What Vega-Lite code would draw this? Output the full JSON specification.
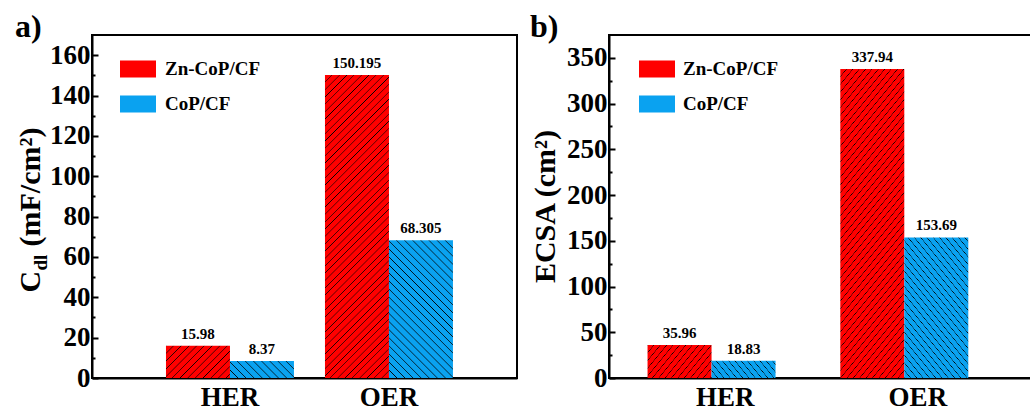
{
  "$schema": "https://vega.github.io/schema/vega-lite/v6.json",
  "background": "white",
  "padding": {"left": 14, "top": 10, "right": 0, "bottom": 0},
  "bounds": "flush",
  "spacing": 92,
  "config": {
    "font": "Liberation Serif",
    "view": {"stroke": "black", "strokeWidth": 2},
    "axis": {
      "grid": false,
      "labelFont": "Liberation Serif",
      "titleFont": "Liberation Serif",
      "labelColor": "black",
      "titleColor": "black",
      "domainColor": "black",
      "tickColor": "black",
      "domainWidth": 2,
      "tickWidth": 2,
      "labelFontWeight": "bold",
      "titleFontWeight": "bold"
    },
    "legend": {
      "labelFont": "Liberation Serif",
      "labelFontWeight": "bold",
      "labelColor": "black"
    },
    "title": {"font": "Liberation Serif", "color": "black"}
  },
  "resolve": {"legend": {"fill": "independent"}},
  "hconcat": [
    {
      "width": 425,
      "height": 343,
      "title": {"text": "a)", "anchor": "start", "frame": "bounds", "fontSize": 32, "fontWeight": "bold", "baseline": "alphabetic", "offset": -34},
      "data": {"values": [
        {"task": "HER", "series": "Zn-CoP/CF", "value": 15.98},
        {"task": "HER", "series": "CoP/CF", "value": 8.37},
        {"task": "OER", "series": "Zn-CoP/CF", "value": 150.195},
        {"task": "OER", "series": "CoP/CF", "value": 68.305}
      ]},
      "encoding": {
        "x": {
          "field": "task", "type": "nominal",
          "scale": {"domain": ["HER", "OER"], "paddingInner": 0.195, "paddingOuter": 0.434, "align": 0.536},
          "axis": {"title": null, "ticks": false, "labelAngle": 0, "labelFontSize": 27, "labelPadding": 6}
        },
        "xOffset": {
          "field": "series", "type": "nominal",
          "scale": {"domain": ["Zn-CoP/CF", "CoP/CF"], "paddingInner": 0, "paddingOuter": 0}
        }
      },
      "layer": [
        {
          "mark": {"type": "bar"},
          "encoding": {
            "y": {
              "field": "value", "type": "quantitative",
              "scale": {"domain": [0, 170], "nice": false},
              "axis": {"orient": "left", "values": [0, 20, 40, 60, 80, 100, 120, 140, 160], "tickSize": -6, "labelFontSize": 27, "labelPadding": 8,
                       "title": "(mF/cm²)", "titleFontSize": 30, "titleAngle": -90, "titleAlign": "left", "titleBaseline": "alphabetic", "titleX": -53, "titleY": 211}
            },
            "fill": {
              "condition": [
                {"test": "datum.task === 'HER' && datum.series === 'Zn-CoP/CF'", "value": {"gradient": "linear", "x1": 0, "y1": 0, "x2": 1.1995, "y2": 0.6035, "stops": [
                  {"offset": 0, "color": "#000"}, {"offset": 0.008, "color": "red"}, {"offset": 0.072, "color": "red"},
                  {"offset": 0.08, "color": "#000"}, {"offset": 0.088, "color": "red"}, {"offset": 0.152, "color": "red"},
                  {"offset": 0.16, "color": "#000"}, {"offset": 0.168, "color": "red"}, {"offset": 0.232, "color": "red"},
                  {"offset": 0.24, "color": "#000"}, {"offset": 0.248, "color": "red"}, {"offset": 0.312, "color": "red"},
                  {"offset": 0.32, "color": "#000"}, {"offset": 0.328, "color": "red"}, {"offset": 0.392, "color": "red"},
                  {"offset": 0.4, "color": "#000"}, {"offset": 0.408, "color": "red"}, {"offset": 0.472, "color": "red"},
                  {"offset": 0.48, "color": "#000"}, {"offset": 0.488, "color": "red"}, {"offset": 0.552, "color": "red"},
                  {"offset": 0.56, "color": "#000"}, {"offset": 0.568, "color": "red"}, {"offset": 0.632, "color": "red"},
                  {"offset": 0.64, "color": "#000"}, {"offset": 0.648, "color": "red"}, {"offset": 0.712, "color": "red"},
                  {"offset": 0.72, "color": "#000"}, {"offset": 0.728, "color": "red"}, {"offset": 0.792, "color": "red"},
                  {"offset": 0.8, "color": "#000"}, {"offset": 0.808, "color": "red"}, {"offset": 0.872, "color": "red"},
                  {"offset": 0.88, "color": "#000"}, {"offset": 0.888, "color": "red"}, {"offset": 0.952, "color": "red"},
                  {"offset": 0.96, "color": "#000"}, {"offset": 0.968, "color": "red"}
                ]}},
                {"test": "datum.task === 'HER' && datum.series === 'CoP/CF'", "value": {"gradient": "linear", "x1": 0, "y1": 1, "x2": 1.1817, "y2": 0.688, "stops": [
                  {"offset": 0, "color": "#000"}, {"offset": 0.01, "color": "#0aa2f0"}, {"offset": 0.09, "color": "#0aa2f0"},
                  {"offset": 0.1, "color": "#000"}, {"offset": 0.11, "color": "#0aa2f0"}, {"offset": 0.19, "color": "#0aa2f0"},
                  {"offset": 0.2, "color": "#000"}, {"offset": 0.21, "color": "#0aa2f0"}, {"offset": 0.29, "color": "#0aa2f0"},
                  {"offset": 0.3, "color": "#000"}, {"offset": 0.31, "color": "#0aa2f0"}, {"offset": 0.39, "color": "#0aa2f0"},
                  {"offset": 0.4, "color": "#000"}, {"offset": 0.41, "color": "#0aa2f0"}, {"offset": 0.49, "color": "#0aa2f0"},
                  {"offset": 0.5, "color": "#000"}, {"offset": 0.51, "color": "#0aa2f0"}, {"offset": 0.59, "color": "#0aa2f0"},
                  {"offset": 0.6, "color": "#000"}, {"offset": 0.61, "color": "#0aa2f0"}, {"offset": 0.69, "color": "#0aa2f0"},
                  {"offset": 0.7, "color": "#000"}, {"offset": 0.71, "color": "#0aa2f0"}, {"offset": 0.79, "color": "#0aa2f0"},
                  {"offset": 0.8, "color": "#000"}, {"offset": 0.81, "color": "#0aa2f0"}, {"offset": 0.89, "color": "#0aa2f0"},
                  {"offset": 0.9, "color": "#000"}, {"offset": 0.91, "color": "#0aa2f0"}, {"offset": 0.99, "color": "#0aa2f0"},
                  {"offset": 1, "color": "#000"}
                ]}},
                {"test": "datum.task === 'OER' && datum.series === 'Zn-CoP/CF'", "value": {"gradient": "linear", "x1": 0, "y1": 0, "x2": 0.2449, "y2": 1.1595, "stops": [
                  {"offset": 0, "color": "#000"}, {"offset": 0.002, "color": "red"}, {"offset": 0.018, "color": "red"},
                  {"offset": 0.02, "color": "#000"}, {"offset": 0.022, "color": "red"}, {"offset": 0.038, "color": "red"},
                  {"offset": 0.04, "color": "#000"}, {"offset": 0.042, "color": "red"}, {"offset": 0.058, "color": "red"},
                  {"offset": 0.06, "color": "#000"}, {"offset": 0.062, "color": "red"}, {"offset": 0.078, "color": "red"},
                  {"offset": 0.08, "color": "#000"}, {"offset": 0.082, "color": "red"}, {"offset": 0.098, "color": "red"},
                  {"offset": 0.1, "color": "#000"}, {"offset": 0.102, "color": "red"}, {"offset": 0.118, "color": "red"},
                  {"offset": 0.12, "color": "#000"}, {"offset": 0.122, "color": "red"}, {"offset": 0.138, "color": "red"},
                  {"offset": 0.14, "color": "#000"}, {"offset": 0.142, "color": "red"}, {"offset": 0.158, "color": "red"},
                  {"offset": 0.16, "color": "#000"}, {"offset": 0.162, "color": "red"}, {"offset": 0.178, "color": "red"},
                  {"offset": 0.18, "color": "#000"}, {"offset": 0.182, "color": "red"}, {"offset": 0.198, "color": "red"},
                  {"offset": 0.2, "color": "#000"}, {"offset": 0.202, "color": "red"}, {"offset": 0.218, "color": "red"},
                  {"offset": 0.22, "color": "#000"}, {"offset": 0.222, "color": "red"}, {"offset": 0.238, "color": "red"},
                  {"offset": 0.24, "color": "#000"}, {"offset": 0.242, "color": "red"}, {"offset": 0.258, "color": "red"},
                  {"offset": 0.26, "color": "#000"}, {"offset": 0.262, "color": "red"}, {"offset": 0.278, "color": "red"},
                  {"offset": 0.28, "color": "#000"}, {"offset": 0.282, "color": "red"}, {"offset": 0.298, "color": "red"},
                  {"offset": 0.3, "color": "#000"}, {"offset": 0.302, "color": "red"}, {"offset": 0.318, "color": "red"},
                  {"offset": 0.32, "color": "#000"}, {"offset": 0.322, "color": "red"}, {"offset": 0.338, "color": "red"},
                  {"offset": 0.34, "color": "#000"}, {"offset": 0.342, "color": "red"}, {"offset": 0.358, "color": "red"},
                  {"offset": 0.36, "color": "#000"}, {"offset": 0.362, "color": "red"}, {"offset": 0.378, "color": "red"},
                  {"offset": 0.38, "color": "#000"}, {"offset": 0.382, "color": "red"}, {"offset": 0.398, "color": "red"},
                  {"offset": 0.4, "color": "#000"}, {"offset": 0.402, "color": "red"}, {"offset": 0.418, "color": "red"},
                  {"offset": 0.42, "color": "#000"}, {"offset": 0.422, "color": "red"}, {"offset": 0.438, "color": "red"},
                  {"offset": 0.44, "color": "#000"}, {"offset": 0.442, "color": "red"}, {"offset": 0.458, "color": "red"},
                  {"offset": 0.46, "color": "#000"}, {"offset": 0.462, "color": "red"}, {"offset": 0.478, "color": "red"},
                  {"offset": 0.48, "color": "#000"}, {"offset": 0.482, "color": "red"}, {"offset": 0.498, "color": "red"},
                  {"offset": 0.5, "color": "#000"}, {"offset": 0.502, "color": "red"}, {"offset": 0.518, "color": "red"},
                  {"offset": 0.52, "color": "#000"}, {"offset": 0.522, "color": "red"}, {"offset": 0.538, "color": "red"},
                  {"offset": 0.54, "color": "#000"}, {"offset": 0.542, "color": "red"}, {"offset": 0.558, "color": "red"},
                  {"offset": 0.56, "color": "#000"}, {"offset": 0.562, "color": "red"}, {"offset": 0.578, "color": "red"},
                  {"offset": 0.58, "color": "#000"}, {"offset": 0.582, "color": "red"}, {"offset": 0.598, "color": "red"},
                  {"offset": 0.6, "color": "#000"}, {"offset": 0.602, "color": "red"}, {"offset": 0.618, "color": "red"},
                  {"offset": 0.62, "color": "#000"}, {"offset": 0.622, "color": "red"}, {"offset": 0.638, "color": "red"},
                  {"offset": 0.64, "color": "#000"}, {"offset": 0.642, "color": "red"}, {"offset": 0.658, "color": "red"},
                  {"offset": 0.66, "color": "#000"}, {"offset": 0.662, "color": "red"}, {"offset": 0.678, "color": "red"},
                  {"offset": 0.68, "color": "#000"}, {"offset": 0.682, "color": "red"}, {"offset": 0.698, "color": "red"},
                  {"offset": 0.7, "color": "#000"}, {"offset": 0.702, "color": "red"}, {"offset": 0.718, "color": "red"},
                  {"offset": 0.72, "color": "#000"}, {"offset": 0.722, "color": "red"}, {"offset": 0.738, "color": "red"},
                  {"offset": 0.74, "color": "#000"}, {"offset": 0.742, "color": "red"}, {"offset": 0.758, "color": "red"},
                  {"offset": 0.76, "color": "#000"}, {"offset": 0.762, "color": "red"}, {"offset": 0.778, "color": "red"},
                  {"offset": 0.78, "color": "#000"}, {"offset": 0.782, "color": "red"}, {"offset": 0.798, "color": "red"},
                  {"offset": 0.8, "color": "#000"}, {"offset": 0.802, "color": "red"}, {"offset": 0.818, "color": "red"},
                  {"offset": 0.82, "color": "#000"}, {"offset": 0.822, "color": "red"}, {"offset": 0.838, "color": "red"},
                  {"offset": 0.84, "color": "#000"}, {"offset": 0.842, "color": "red"}, {"offset": 0.858, "color": "red"},
                  {"offset": 0.86, "color": "#000"}, {"offset": 0.862, "color": "red"}, {"offset": 0.878, "color": "red"},
                  {"offset": 0.88, "color": "#000"}, {"offset": 0.882, "color": "red"}, {"offset": 0.898, "color": "red"},
                  {"offset": 0.9, "color": "#000"}, {"offset": 0.902, "color": "red"}, {"offset": 0.918, "color": "red"},
                  {"offset": 0.92, "color": "#000"}, {"offset": 0.922, "color": "red"}, {"offset": 0.938, "color": "red"},
                  {"offset": 0.94, "color": "#000"}, {"offset": 0.942, "color": "red"}, {"offset": 0.958, "color": "red"},
                  {"offset": 0.96, "color": "#000"}, {"offset": 0.962, "color": "red"}, {"offset": 0.978, "color": "red"},
                  {"offset": 0.98, "color": "#000"}, {"offset": 0.982, "color": "red"}, {"offset": 0.998, "color": "red"},
                  {"offset": 1, "color": "#000"}
                ]}},
                {"test": "datum.task === 'OER' && datum.series === 'CoP/CF'", "value": {"gradient": "linear", "x1": 0, "y1": 1, "x2": 0.5595, "y2": -0.2046, "stops": [
                  {"offset": 0, "color": "#000"}, {"offset": 0.004, "color": "#0aa2f0"}, {"offset": 0.036, "color": "#0aa2f0"},
                  {"offset": 0.04, "color": "#000"}, {"offset": 0.044, "color": "#0aa2f0"}, {"offset": 0.076, "color": "#0aa2f0"},
                  {"offset": 0.08, "color": "#000"}, {"offset": 0.084, "color": "#0aa2f0"}, {"offset": 0.116, "color": "#0aa2f0"},
                  {"offset": 0.12, "color": "#000"}, {"offset": 0.124, "color": "#0aa2f0"}, {"offset": 0.156, "color": "#0aa2f0"},
                  {"offset": 0.16, "color": "#000"}, {"offset": 0.164, "color": "#0aa2f0"}, {"offset": 0.196, "color": "#0aa2f0"},
                  {"offset": 0.2, "color": "#000"}, {"offset": 0.204, "color": "#0aa2f0"}, {"offset": 0.236, "color": "#0aa2f0"},
                  {"offset": 0.24, "color": "#000"}, {"offset": 0.244, "color": "#0aa2f0"}, {"offset": 0.276, "color": "#0aa2f0"},
                  {"offset": 0.28, "color": "#000"}, {"offset": 0.284, "color": "#0aa2f0"}, {"offset": 0.316, "color": "#0aa2f0"},
                  {"offset": 0.32, "color": "#000"}, {"offset": 0.324, "color": "#0aa2f0"}, {"offset": 0.356, "color": "#0aa2f0"},
                  {"offset": 0.36, "color": "#000"}, {"offset": 0.364, "color": "#0aa2f0"}, {"offset": 0.396, "color": "#0aa2f0"},
                  {"offset": 0.4, "color": "#000"}, {"offset": 0.404, "color": "#0aa2f0"}, {"offset": 0.436, "color": "#0aa2f0"},
                  {"offset": 0.44, "color": "#000"}, {"offset": 0.444, "color": "#0aa2f0"}, {"offset": 0.476, "color": "#0aa2f0"},
                  {"offset": 0.48, "color": "#000"}, {"offset": 0.484, "color": "#0aa2f0"}, {"offset": 0.516, "color": "#0aa2f0"},
                  {"offset": 0.52, "color": "#000"}, {"offset": 0.524, "color": "#0aa2f0"}, {"offset": 0.556, "color": "#0aa2f0"},
                  {"offset": 0.56, "color": "#000"}, {"offset": 0.564, "color": "#0aa2f0"}, {"offset": 0.596, "color": "#0aa2f0"},
                  {"offset": 0.6, "color": "#000"}, {"offset": 0.604, "color": "#0aa2f0"}, {"offset": 0.636, "color": "#0aa2f0"},
                  {"offset": 0.64, "color": "#000"}, {"offset": 0.644, "color": "#0aa2f0"}, {"offset": 0.676, "color": "#0aa2f0"},
                  {"offset": 0.68, "color": "#000"}, {"offset": 0.684, "color": "#0aa2f0"}, {"offset": 0.716, "color": "#0aa2f0"},
                  {"offset": 0.72, "color": "#000"}, {"offset": 0.724, "color": "#0aa2f0"}, {"offset": 0.756, "color": "#0aa2f0"},
                  {"offset": 0.76, "color": "#000"}, {"offset": 0.764, "color": "#0aa2f0"}, {"offset": 0.796, "color": "#0aa2f0"},
                  {"offset": 0.8, "color": "#000"}, {"offset": 0.804, "color": "#0aa2f0"}, {"offset": 0.836, "color": "#0aa2f0"},
                  {"offset": 0.84, "color": "#000"}, {"offset": 0.844, "color": "#0aa2f0"}, {"offset": 0.876, "color": "#0aa2f0"},
                  {"offset": 0.88, "color": "#000"}, {"offset": 0.884, "color": "#0aa2f0"}, {"offset": 0.916, "color": "#0aa2f0"},
                  {"offset": 0.92, "color": "#000"}, {"offset": 0.924, "color": "#0aa2f0"}, {"offset": 0.956, "color": "#0aa2f0"},
                  {"offset": 0.96, "color": "#000"}, {"offset": 0.964, "color": "#0aa2f0"}, {"offset": 0.996, "color": "#0aa2f0"},
                  {"offset": 1, "color": "#000"}
                ]}}
              ],
              "field": "series", "type": "nominal",
              "scale": {"domain": ["Zn-CoP/CF", "CoP/CF"], "range": ["#ff0000", "#0aa2f0"]},
              "legend": {"title": null, "orient": "none", "legendX": 28, "legendY": 16, "symbolType": "M-1,-0.47H1V0.47H-1Z", "symbolSize": 1296, "symbolStrokeWidth": 0, "symbolOpacity": 1, "labelFontSize": 19, "labelOffset": 9, "rowPadding": 7,
                "encode": {"symbols": {"update": {"fill": [
                  {"test": "datum.value === 'Zn-CoP/CF'", "value": {"gradient": "linear", "x1": 0, "y1": 0, "x2": 1.2038, "y2": 0.5685, "stops": [
                    {"offset": 0, "color": "#000"}, {"offset": 0.014, "color": "red"}, {"offset": 0.126, "color": "red"},
                    {"offset": 0.14, "color": "#000"}, {"offset": 0.154, "color": "red"}, {"offset": 0.266, "color": "red"},
                    {"offset": 0.28, "color": "#000"}, {"offset": 0.294, "color": "red"}, {"offset": 0.406, "color": "red"},
                    {"offset": 0.42, "color": "#000"}, {"offset": 0.434, "color": "red"}, {"offset": 0.546, "color": "red"},
                    {"offset": 0.56, "color": "#000"}, {"offset": 0.574, "color": "red"}, {"offset": 0.686, "color": "red"},
                    {"offset": 0.7, "color": "#000"}, {"offset": 0.714, "color": "red"}, {"offset": 0.826, "color": "red"},
                    {"offset": 0.84, "color": "#000"}, {"offset": 0.854, "color": "red"}, {"offset": 0.966, "color": "red"},
                    {"offset": 0.98, "color": "#000"}, {"offset": 0.994, "color": "red"}
                  ]}},
                  {"value": {"gradient": "linear", "x1": 0, "y1": 1, "x2": 1.2038, "y2": 0.4315, "stops": [
                    {"offset": 0, "color": "#000"}, {"offset": 0.014, "color": "#0aa2f0"}, {"offset": 0.126, "color": "#0aa2f0"},
                    {"offset": 0.14, "color": "#000"}, {"offset": 0.154, "color": "#0aa2f0"}, {"offset": 0.266, "color": "#0aa2f0"},
                    {"offset": 0.28, "color": "#000"}, {"offset": 0.294, "color": "#0aa2f0"}, {"offset": 0.406, "color": "#0aa2f0"},
                    {"offset": 0.42, "color": "#000"}, {"offset": 0.434, "color": "#0aa2f0"}, {"offset": 0.546, "color": "#0aa2f0"},
                    {"offset": 0.56, "color": "#000"}, {"offset": 0.574, "color": "#0aa2f0"}, {"offset": 0.686, "color": "#0aa2f0"},
                    {"offset": 0.7, "color": "#000"}, {"offset": 0.714, "color": "#0aa2f0"}, {"offset": 0.826, "color": "#0aa2f0"},
                    {"offset": 0.84, "color": "#000"}, {"offset": 0.854, "color": "#0aa2f0"}, {"offset": 0.966, "color": "#0aa2f0"},
                    {"offset": 0.98, "color": "#000"}, {"offset": 0.994, "color": "#0aa2f0"}
                  ]}}
                ]}}}
              }
            }
          }
        },
        {
          "transform": [{"filter": "datum.series === 'Zn-CoP/CF'"}],
          "mark": {"type": "text", "baseline": "alphabetic", "dy": -7, "fontSize": 15, "fontWeight": "bold", "color": "black"},
          "encoding": {
            "y": {
              "field": "value", "type": "quantitative",
              "scale": {"domain": [0, 170], "nice": false},
              "axis": {"orient": "left", "values": [10, 30, 50, 70, 90, 110, 130, 150], "tickSize": -3, "labels": false, "domain": false,
                       "title": "C", "titleFontSize": 30, "titleAngle": -90, "titleAlign": "left", "titleBaseline": "alphabetic", "titleX": -53, "titleY": 257}
            },
            "text": {"field": "value", "type": "nominal"}
          }
        },
        {
          "transform": [{"filter": "datum.series === 'CoP/CF'"}],
          "mark": {"type": "text", "baseline": "alphabetic", "dy": -7, "fontSize": 15, "fontWeight": "bold", "color": "black"},
          "encoding": {
            "y": {
              "field": "value", "type": "quantitative",
              "scale": {"domain": [0, 170], "nice": false},
              "axis": {"orient": "left", "ticks": false, "labels": false, "domain": false,
                       "title": "dl", "titleFontSize": 19, "titleAngle": -90, "titleAlign": "left", "titleBaseline": "alphabetic", "titleX": -46, "titleY": 235}
            },
            "text": {"field": "value", "type": "nominal"}
          }
        }
      ],
      "resolve": {"scale": {"y": "independent"}}
    },
    {
      "width": 425,
      "height": 343,
      "title": {"text": "b)", "anchor": "start", "frame": "bounds", "fontSize": 32, "fontWeight": "bold", "baseline": "alphabetic", "offset": -34},
      "data": {"values": [
        {"task": "HER", "series": "Zn-CoP/CF", "value": 35.96},
        {"task": "HER", "series": "CoP/CF", "value": 18.83},
        {"task": "OER", "series": "Zn-CoP/CF", "value": 337.94},
        {"task": "OER", "series": "CoP/CF", "value": 153.69}
      ]},
      "encoding": {
        "x": {
          "field": "task", "type": "nominal",
          "scale": {"domain": ["HER", "OER"], "paddingInner": 0.195, "paddingOuter": 0.2, "align": 0.5},
          "axis": {"title": null, "ticks": false, "labelAngle": 0, "labelFontSize": 27, "labelPadding": 6}
        },
        "xOffset": {
          "field": "series", "type": "nominal",
          "scale": {"domain": ["Zn-CoP/CF", "CoP/CF"], "paddingInner": 0, "paddingOuter": 0}
        }
      },
      "layer": [
        {
          "mark": {"type": "bar"},
          "encoding": {
            "y": {
              "field": "value", "type": "quantitative",
              "scale": {"domain": [0, 375], "nice": false},
              "axis": {"orient": "left", "values": [0, 50, 100, 150, 200, 250, 300, 350], "tickSize": -6, "labelFontSize": 27, "labelPadding": 8,
                       "title": "ECSA (cm²)", "titleFontSize": 30, "titleAngle": -90, "titleAlign": "center", "titleBaseline": "alphabetic", "titleX": -55, "titleY": 171}
            },
            "fill": {
              "condition": [
                {"test": "datum.task === 'HER' && datum.series === 'Zn-CoP/CF'", "value": {"gradient": "linear", "x1": 0, "y1": 0, "x2": 1.207, "y2": 0.5117, "stops": [
                  {"offset": 0, "color": "#000"}, {"offset": 0.007, "color": "red"}, {"offset": 0.063, "color": "red"},
                  {"offset": 0.07, "color": "#000"}, {"offset": 0.077, "color": "red"}, {"offset": 0.133, "color": "red"},
                  {"offset": 0.14, "color": "#000"}, {"offset": 0.147, "color": "red"}, {"offset": 0.203, "color": "red"},
                  {"offset": 0.21, "color": "#000"}, {"offset": 0.217, "color": "red"}, {"offset": 0.273, "color": "red"},
                  {"offset": 0.28, "color": "#000"}, {"offset": 0.287, "color": "red"}, {"offset": 0.343, "color": "red"},
                  {"offset": 0.35, "color": "#000"}, {"offset": 0.357, "color": "red"}, {"offset": 0.413, "color": "red"},
                  {"offset": 0.42, "color": "#000"}, {"offset": 0.427, "color": "red"}, {"offset": 0.483, "color": "red"},
                  {"offset": 0.49, "color": "#000"}, {"offset": 0.497, "color": "red"}, {"offset": 0.553, "color": "red"},
                  {"offset": 0.56, "color": "#000"}, {"offset": 0.567, "color": "red"}, {"offset": 0.623, "color": "red"},
                  {"offset": 0.63, "color": "#000"}, {"offset": 0.637, "color": "red"}, {"offset": 0.693, "color": "red"},
                  {"offset": 0.7, "color": "#000"}, {"offset": 0.707, "color": "red"}, {"offset": 0.763, "color": "red"},
                  {"offset": 0.77, "color": "#000"}, {"offset": 0.777, "color": "red"}, {"offset": 0.833, "color": "red"},
                  {"offset": 0.84, "color": "#000"}, {"offset": 0.847, "color": "red"}, {"offset": 0.903, "color": "red"},
                  {"offset": 0.91, "color": "#000"}, {"offset": 0.917, "color": "red"}, {"offset": 0.973, "color": "red"},
                  {"offset": 0.98, "color": "#000"}, {"offset": 0.987, "color": "red"}
                ]}},
                {"test": "datum.task === 'HER' && datum.series === 'CoP/CF'", "value": {"gradient": "linear", "x1": 0, "y1": 1, "x2": 1.1645, "y2": 0.7419, "stops": [
                  {"offset": 0, "color": "#000"}, {"offset": 0.008, "color": "#0aa2f0"}, {"offset": 0.072, "color": "#0aa2f0"},
                  {"offset": 0.08, "color": "#000"}, {"offset": 0.088, "color": "#0aa2f0"}, {"offset": 0.152, "color": "#0aa2f0"},
                  {"offset": 0.16, "color": "#000"}, {"offset": 0.168, "color": "#0aa2f0"}, {"offset": 0.232, "color": "#0aa2f0"},
                  {"offset": 0.24, "color": "#000"}, {"offset": 0.248, "color": "#0aa2f0"}, {"offset": 0.312, "color": "#0aa2f0"},
                  {"offset": 0.32, "color": "#000"}, {"offset": 0.328, "color": "#0aa2f0"}, {"offset": 0.392, "color": "#0aa2f0"},
                  {"offset": 0.4, "color": "#000"}, {"offset": 0.408, "color": "#0aa2f0"}, {"offset": 0.472, "color": "#0aa2f0"},
                  {"offset": 0.48, "color": "#000"}, {"offset": 0.488, "color": "#0aa2f0"}, {"offset": 0.552, "color": "#0aa2f0"},
                  {"offset": 0.56, "color": "#000"}, {"offset": 0.568, "color": "#0aa2f0"}, {"offset": 0.632, "color": "#0aa2f0"},
                  {"offset": 0.64, "color": "#000"}, {"offset": 0.648, "color": "#0aa2f0"}, {"offset": 0.712, "color": "#0aa2f0"},
                  {"offset": 0.72, "color": "#000"}, {"offset": 0.728, "color": "#0aa2f0"}, {"offset": 0.792, "color": "#0aa2f0"},
                  {"offset": 0.8, "color": "#000"}, {"offset": 0.808, "color": "#0aa2f0"}, {"offset": 0.872, "color": "#0aa2f0"},
                  {"offset": 0.88, "color": "#000"}, {"offset": 0.888, "color": "#0aa2f0"}, {"offset": 0.952, "color": "#0aa2f0"},
                  {"offset": 0.96, "color": "#000"}, {"offset": 0.968, "color": "#0aa2f0"}
                ]}},
                {"test": "datum.task === 'OER' && datum.series === 'Zn-CoP/CF'", "value": {"gradient": "linear", "x1": 0, "y1": 0, "x2": 0.2955, "y2": 1.1769, "stops": [
                  {"offset": 0, "color": "#000"}, {"offset": 0.002, "color": "red"}, {"offset": 0.018, "color": "red"},
                  {"offset": 0.02, "color": "#000"}, {"offset": 0.022, "color": "red"}, {"offset": 0.038, "color": "red"},
                  {"offset": 0.04, "color": "#000"}, {"offset": 0.042, "color": "red"}, {"offset": 0.058, "color": "red"},
                  {"offset": 0.06, "color": "#000"}, {"offset": 0.062, "color": "red"}, {"offset": 0.078, "color": "red"},
                  {"offset": 0.08, "color": "#000"}, {"offset": 0.082, "color": "red"}, {"offset": 0.098, "color": "red"},
                  {"offset": 0.1, "color": "#000"}, {"offset": 0.102, "color": "red"}, {"offset": 0.118, "color": "red"},
                  {"offset": 0.12, "color": "#000"}, {"offset": 0.122, "color": "red"}, {"offset": 0.138, "color": "red"},
                  {"offset": 0.14, "color": "#000"}, {"offset": 0.142, "color": "red"}, {"offset": 0.158, "color": "red"},
                  {"offset": 0.16, "color": "#000"}, {"offset": 0.162, "color": "red"}, {"offset": 0.178, "color": "red"},
                  {"offset": 0.18, "color": "#000"}, {"offset": 0.182, "color": "red"}, {"offset": 0.198, "color": "red"},
                  {"offset": 0.2, "color": "#000"}, {"offset": 0.202, "color": "red"}, {"offset": 0.218, "color": "red"},
                  {"offset": 0.22, "color": "#000"}, {"offset": 0.222, "color": "red"}, {"offset": 0.238, "color": "red"},
                  {"offset": 0.24, "color": "#000"}, {"offset": 0.242, "color": "red"}, {"offset": 0.258, "color": "red"},
                  {"offset": 0.26, "color": "#000"}, {"offset": 0.262, "color": "red"}, {"offset": 0.278, "color": "red"},
                  {"offset": 0.28, "color": "#000"}, {"offset": 0.282, "color": "red"}, {"offset": 0.298, "color": "red"},
                  {"offset": 0.3, "color": "#000"}, {"offset": 0.302, "color": "red"}, {"offset": 0.318, "color": "red"},
                  {"offset": 0.32, "color": "#000"}, {"offset": 0.322, "color": "red"}, {"offset": 0.338, "color": "red"},
                  {"offset": 0.34, "color": "#000"}, {"offset": 0.342, "color": "red"}, {"offset": 0.358, "color": "red"},
                  {"offset": 0.36, "color": "#000"}, {"offset": 0.362, "color": "red"}, {"offset": 0.378, "color": "red"},
                  {"offset": 0.38, "color": "#000"}, {"offset": 0.382, "color": "red"}, {"offset": 0.398, "color": "red"},
                  {"offset": 0.4, "color": "#000"}, {"offset": 0.402, "color": "red"}, {"offset": 0.418, "color": "red"},
                  {"offset": 0.42, "color": "#000"}, {"offset": 0.422, "color": "red"}, {"offset": 0.438, "color": "red"},
                  {"offset": 0.44, "color": "#000"}, {"offset": 0.442, "color": "red"}, {"offset": 0.458, "color": "red"},
                  {"offset": 0.46, "color": "#000"}, {"offset": 0.462, "color": "red"}, {"offset": 0.478, "color": "red"},
                  {"offset": 0.48, "color": "#000"}, {"offset": 0.482, "color": "red"}, {"offset": 0.498, "color": "red"},
                  {"offset": 0.5, "color": "#000"}, {"offset": 0.502, "color": "red"}, {"offset": 0.518, "color": "red"},
                  {"offset": 0.52, "color": "#000"}, {"offset": 0.522, "color": "red"}, {"offset": 0.538, "color": "red"},
                  {"offset": 0.54, "color": "#000"}, {"offset": 0.542, "color": "red"}, {"offset": 0.558, "color": "red"},
                  {"offset": 0.56, "color": "#000"}, {"offset": 0.562, "color": "red"}, {"offset": 0.578, "color": "red"},
                  {"offset": 0.58, "color": "#000"}, {"offset": 0.582, "color": "red"}, {"offset": 0.598, "color": "red"},
                  {"offset": 0.6, "color": "#000"}, {"offset": 0.602, "color": "red"}, {"offset": 0.618, "color": "red"},
                  {"offset": 0.62, "color": "#000"}, {"offset": 0.622, "color": "red"}, {"offset": 0.638, "color": "red"},
                  {"offset": 0.64, "color": "#000"}, {"offset": 0.642, "color": "red"}, {"offset": 0.658, "color": "red"},
                  {"offset": 0.66, "color": "#000"}, {"offset": 0.662, "color": "red"}, {"offset": 0.678, "color": "red"},
                  {"offset": 0.68, "color": "#000"}, {"offset": 0.682, "color": "red"}, {"offset": 0.698, "color": "red"},
                  {"offset": 0.7, "color": "#000"}, {"offset": 0.702, "color": "red"}, {"offset": 0.718, "color": "red"},
                  {"offset": 0.72, "color": "#000"}, {"offset": 0.722, "color": "red"}, {"offset": 0.738, "color": "red"},
                  {"offset": 0.74, "color": "#000"}, {"offset": 0.742, "color": "red"}, {"offset": 0.758, "color": "red"},
                  {"offset": 0.76, "color": "#000"}, {"offset": 0.762, "color": "red"}, {"offset": 0.778, "color": "red"},
                  {"offset": 0.78, "color": "#000"}, {"offset": 0.782, "color": "red"}, {"offset": 0.798, "color": "red"},
                  {"offset": 0.8, "color": "#000"}, {"offset": 0.802, "color": "red"}, {"offset": 0.818, "color": "red"},
                  {"offset": 0.82, "color": "#000"}, {"offset": 0.822, "color": "red"}, {"offset": 0.838, "color": "red"},
                  {"offset": 0.84, "color": "#000"}, {"offset": 0.842, "color": "red"}, {"offset": 0.858, "color": "red"},
                  {"offset": 0.86, "color": "#000"}, {"offset": 0.862, "color": "red"}, {"offset": 0.878, "color": "red"},
                  {"offset": 0.88, "color": "#000"}, {"offset": 0.882, "color": "red"}, {"offset": 0.898, "color": "red"},
                  {"offset": 0.9, "color": "#000"}, {"offset": 0.902, "color": "red"}, {"offset": 0.918, "color": "red"},
                  {"offset": 0.92, "color": "#000"}, {"offset": 0.922, "color": "red"}, {"offset": 0.938, "color": "red"},
                  {"offset": 0.94, "color": "#000"}, {"offset": 0.942, "color": "red"}, {"offset": 0.958, "color": "red"},
                  {"offset": 0.96, "color": "#000"}, {"offset": 0.962, "color": "red"}, {"offset": 0.978, "color": "red"},
                  {"offset": 0.98, "color": "#000"}, {"offset": 0.982, "color": "red"}, {"offset": 0.998, "color": "red"},
                  {"offset": 1, "color": "#000"}
                ]}},
                {"test": "datum.task === 'OER' && datum.series === 'CoP/CF'", "value": {"gradient": "linear", "x1": 0, "y1": 1, "x2": 0.6565, "y2": -0.1896, "stops": [
                  {"offset": 0, "color": "#000"}, {"offset": 0.0035, "color": "#0aa2f0"}, {"offset": 0.0315, "color": "#0aa2f0"},
                  {"offset": 0.035, "color": "#000"}, {"offset": 0.0385, "color": "#0aa2f0"}, {"offset": 0.0665, "color": "#0aa2f0"},
                  {"offset": 0.07, "color": "#000"}, {"offset": 0.0735, "color": "#0aa2f0"}, {"offset": 0.1015, "color": "#0aa2f0"},
                  {"offset": 0.105, "color": "#000"}, {"offset": 0.1085, "color": "#0aa2f0"}, {"offset": 0.1365, "color": "#0aa2f0"},
                  {"offset": 0.14, "color": "#000"}, {"offset": 0.1435, "color": "#0aa2f0"}, {"offset": 0.1715, "color": "#0aa2f0"},
                  {"offset": 0.175, "color": "#000"}, {"offset": 0.1785, "color": "#0aa2f0"}, {"offset": 0.2065, "color": "#0aa2f0"},
                  {"offset": 0.21, "color": "#000"}, {"offset": 0.2135, "color": "#0aa2f0"}, {"offset": 0.2415, "color": "#0aa2f0"},
                  {"offset": 0.245, "color": "#000"}, {"offset": 0.2485, "color": "#0aa2f0"}, {"offset": 0.2765, "color": "#0aa2f0"},
                  {"offset": 0.28, "color": "#000"}, {"offset": 0.2835, "color": "#0aa2f0"}, {"offset": 0.3115, "color": "#0aa2f0"},
                  {"offset": 0.315, "color": "#000"}, {"offset": 0.3185, "color": "#0aa2f0"}, {"offset": 0.3465, "color": "#0aa2f0"},
                  {"offset": 0.35, "color": "#000"}, {"offset": 0.3535, "color": "#0aa2f0"}, {"offset": 0.3815, "color": "#0aa2f0"},
                  {"offset": 0.385, "color": "#000"}, {"offset": 0.3885, "color": "#0aa2f0"}, {"offset": 0.4165, "color": "#0aa2f0"},
                  {"offset": 0.42, "color": "#000"}, {"offset": 0.4235, "color": "#0aa2f0"}, {"offset": 0.4515, "color": "#0aa2f0"},
                  {"offset": 0.455, "color": "#000"}, {"offset": 0.4585, "color": "#0aa2f0"}, {"offset": 0.4865, "color": "#0aa2f0"},
                  {"offset": 0.49, "color": "#000"}, {"offset": 0.4935, "color": "#0aa2f0"}, {"offset": 0.5215, "color": "#0aa2f0"},
                  {"offset": 0.525, "color": "#000"}, {"offset": 0.5285, "color": "#0aa2f0"}, {"offset": 0.5565, "color": "#0aa2f0"},
                  {"offset": 0.56, "color": "#000"}, {"offset": 0.5635, "color": "#0aa2f0"}, {"offset": 0.5915, "color": "#0aa2f0"},
                  {"offset": 0.595, "color": "#000"}, {"offset": 0.5985, "color": "#0aa2f0"}, {"offset": 0.6265, "color": "#0aa2f0"},
                  {"offset": 0.63, "color": "#000"}, {"offset": 0.6335, "color": "#0aa2f0"}, {"offset": 0.6615, "color": "#0aa2f0"},
                  {"offset": 0.665, "color": "#000"}, {"offset": 0.6685, "color": "#0aa2f0"}, {"offset": 0.6965, "color": "#0aa2f0"},
                  {"offset": 0.7, "color": "#000"}, {"offset": 0.7035, "color": "#0aa2f0"}, {"offset": 0.7315, "color": "#0aa2f0"},
                  {"offset": 0.735, "color": "#000"}, {"offset": 0.7385, "color": "#0aa2f0"}, {"offset": 0.7665, "color": "#0aa2f0"},
                  {"offset": 0.77, "color": "#000"}, {"offset": 0.7735, "color": "#0aa2f0"}, {"offset": 0.8015, "color": "#0aa2f0"},
                  {"offset": 0.805, "color": "#000"}, {"offset": 0.8085, "color": "#0aa2f0"}, {"offset": 0.8365, "color": "#0aa2f0"},
                  {"offset": 0.84, "color": "#000"}, {"offset": 0.8435, "color": "#0aa2f0"}, {"offset": 0.8715, "color": "#0aa2f0"},
                  {"offset": 0.875, "color": "#000"}, {"offset": 0.8785, "color": "#0aa2f0"}, {"offset": 0.9065, "color": "#0aa2f0"},
                  {"offset": 0.91, "color": "#000"}, {"offset": 0.9135, "color": "#0aa2f0"}, {"offset": 0.9415, "color": "#0aa2f0"},
                  {"offset": 0.945, "color": "#000"}, {"offset": 0.9485, "color": "#0aa2f0"}, {"offset": 0.9765, "color": "#0aa2f0"},
                  {"offset": 0.98, "color": "#000"}, {"offset": 0.9835, "color": "#0aa2f0"}
                ]}}
              ],
              "field": "series", "type": "nominal",
              "scale": {"domain": ["Zn-CoP/CF", "CoP/CF"], "range": ["#ff0000", "#0aa2f0"]},
              "legend": {"title": null, "orient": "none", "legendX": 30, "legendY": 16, "symbolType": "M-1,-0.47H1V0.47H-1Z", "symbolSize": 1296, "symbolStrokeWidth": 0, "symbolOpacity": 1, "labelFontSize": 19, "labelOffset": 8, "rowPadding": 7,
                "encode": {"symbols": {"update": {"fill": [
                  {"test": "datum.value === 'Zn-CoP/CF'", "value": {"gradient": "linear", "x1": 0, "y1": 0, "x2": 1.2038, "y2": 0.5685, "stops": [
                    {"offset": 0, "color": "#000"}, {"offset": 0.014, "color": "red"}, {"offset": 0.126, "color": "red"},
                    {"offset": 0.14, "color": "#000"}, {"offset": 0.154, "color": "red"}, {"offset": 0.266, "color": "red"},
                    {"offset": 0.28, "color": "#000"}, {"offset": 0.294, "color": "red"}, {"offset": 0.406, "color": "red"},
                    {"offset": 0.42, "color": "#000"}, {"offset": 0.434, "color": "red"}, {"offset": 0.546, "color": "red"},
                    {"offset": 0.56, "color": "#000"}, {"offset": 0.574, "color": "red"}, {"offset": 0.686, "color": "red"},
                    {"offset": 0.7, "color": "#000"}, {"offset": 0.714, "color": "red"}, {"offset": 0.826, "color": "red"},
                    {"offset": 0.84, "color": "#000"}, {"offset": 0.854, "color": "red"}, {"offset": 0.966, "color": "red"},
                    {"offset": 0.98, "color": "#000"}, {"offset": 0.994, "color": "red"}
                  ]}},
                  {"value": {"gradient": "linear", "x1": 0, "y1": 1, "x2": 1.2038, "y2": 0.4315, "stops": [
                    {"offset": 0, "color": "#000"}, {"offset": 0.014, "color": "#0aa2f0"}, {"offset": 0.126, "color": "#0aa2f0"},
                    {"offset": 0.14, "color": "#000"}, {"offset": 0.154, "color": "#0aa2f0"}, {"offset": 0.266, "color": "#0aa2f0"},
                    {"offset": 0.28, "color": "#000"}, {"offset": 0.294, "color": "#0aa2f0"}, {"offset": 0.406, "color": "#0aa2f0"},
                    {"offset": 0.42, "color": "#000"}, {"offset": 0.434, "color": "#0aa2f0"}, {"offset": 0.546, "color": "#0aa2f0"},
                    {"offset": 0.56, "color": "#000"}, {"offset": 0.574, "color": "#0aa2f0"}, {"offset": 0.686, "color": "#0aa2f0"},
                    {"offset": 0.7, "color": "#000"}, {"offset": 0.714, "color": "#0aa2f0"}, {"offset": 0.826, "color": "#0aa2f0"},
                    {"offset": 0.84, "color": "#000"}, {"offset": 0.854, "color": "#0aa2f0"}, {"offset": 0.966, "color": "#0aa2f0"},
                    {"offset": 0.98, "color": "#000"}, {"offset": 0.994, "color": "#0aa2f0"}
                  ]}}
                ]}}}
              }
            }
          }
        },
        {
          "mark": {"type": "text", "baseline": "alphabetic", "dy": -7, "fontSize": 15, "fontWeight": "bold", "color": "black"},
          "encoding": {
            "y": {
              "field": "value", "type": "quantitative",
              "scale": {"domain": [0, 375], "nice": false},
              "axis": {"orient": "left", "values": [25, 75, 125, 175, 225, 275, 325], "tickSize": -3, "labels": false, "domain": false, "title": null}
            },
            "text": {"field": "value", "type": "nominal"}
          }
        }
      ],
      "resolve": {"scale": {"y": "independent"}}
    }
  ]
}
